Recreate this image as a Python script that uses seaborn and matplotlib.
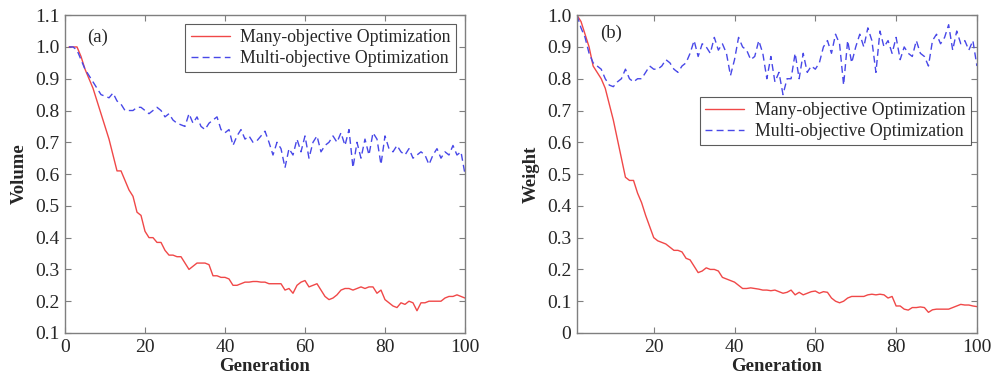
import numpy as np
import pandas as pd
import seaborn as sns
import matplotlib.pyplot as plt

# Generation axis
generation = list(range(1, 101))

# (a) Volume
volume_many = [1.0, 1.0, 1.0, 0.97, 0.93, 0.90, 0.87, 0.83, 0.79, 0.75,
               0.71, 0.66, 0.61, 0.61, 0.58, 0.55, 0.53, 0.48, 0.47, 0.42,
               0.40, 0.40, 0.385, 0.385, 0.36, 0.345, 0.345, 0.34, 0.34, 0.32,
               0.30, 0.31, 0.32, 0.32, 0.32, 0.315, 0.28, 0.28, 0.275, 0.275,
               0.27, 0.25, 0.25, 0.255, 0.26, 0.26, 0.262, 0.262, 0.26, 0.26,
               0.255, 0.255, 0.255, 0.255, 0.235, 0.24, 0.225, 0.25, 0.26, 0.265,
               0.245, 0.25, 0.255, 0.235, 0.215, 0.205, 0.21, 0.22, 0.235, 0.24,
               0.24, 0.235, 0.24, 0.245, 0.24, 0.245, 0.245, 0.225, 0.235, 0.205,
               0.195, 0.185, 0.18, 0.195, 0.19, 0.2, 0.195, 0.17, 0.195, 0.195,
               0.2, 0.2, 0.2, 0.2, 0.21, 0.215, 0.215, 0.22, 0.215, 0.21]
volume_multi = [1.0, 1.0, 0.99, 0.96, 0.93, 0.91, 0.89, 0.87, 0.85, 0.845,
                0.84, 0.855, 0.83, 0.82, 0.80, 0.80, 0.80, 0.81, 0.81, 0.80,
                0.79, 0.80, 0.81, 0.80, 0.78, 0.79, 0.77, 0.76, 0.755, 0.75,
                0.79, 0.76, 0.78, 0.75, 0.74, 0.76, 0.77, 0.78, 0.74, 0.73,
                0.74, 0.69, 0.72, 0.74, 0.71, 0.72, 0.70, 0.705, 0.72, 0.735,
                0.70, 0.66, 0.70, 0.68, 0.62, 0.68, 0.66, 0.71, 0.67, 0.72,
                0.65, 0.70, 0.72, 0.67, 0.69, 0.70, 0.72, 0.70, 0.73, 0.69,
                0.74, 0.62, 0.70, 0.65, 0.71, 0.66, 0.73, 0.71, 0.63, 0.72,
                0.68, 0.67, 0.69, 0.67, 0.66, 0.68, 0.65, 0.66, 0.67, 0.66,
                0.63, 0.66, 0.68, 0.65, 0.67, 0.66, 0.69, 0.66, 0.67, 0.60]

# (b) Weight
weight_many = [1.0, 0.98, 0.94, 0.90, 0.84, 0.82, 0.80, 0.77, 0.72, 0.67,
               0.61, 0.55, 0.49, 0.48, 0.48, 0.44, 0.41, 0.37, 0.335, 0.30,
               0.29, 0.285, 0.28, 0.27, 0.26, 0.26, 0.255, 0.235, 0.23, 0.21,
               0.19, 0.195, 0.205, 0.20, 0.20, 0.195, 0.175, 0.17, 0.165, 0.16,
               0.15, 0.14, 0.14, 0.142, 0.14, 0.138, 0.135, 0.135, 0.133, 0.135,
               0.13, 0.125, 0.128, 0.135, 0.12, 0.128, 0.12, 0.125, 0.13, 0.132,
               0.125, 0.13, 0.128, 0.11, 0.10, 0.095, 0.10, 0.11, 0.115, 0.115,
               0.115, 0.115, 0.12, 0.122, 0.12, 0.122, 0.12, 0.11, 0.115, 0.085,
               0.085, 0.075, 0.072, 0.08, 0.08, 0.082, 0.08, 0.065, 0.073, 0.075,
               0.075, 0.075, 0.075, 0.08, 0.085, 0.09, 0.088, 0.088, 0.085, 0.083]
weight_multi = [1.0, 0.96, 0.93, 0.88, 0.85, 0.84, 0.83, 0.80, 0.78, 0.775,
                0.79, 0.80, 0.83, 0.80, 0.79, 0.80, 0.80, 0.82, 0.84, 0.83,
                0.83, 0.84, 0.86, 0.85, 0.83, 0.82, 0.84, 0.85, 0.88, 0.92,
                0.87, 0.91, 0.90, 0.88, 0.93, 0.89, 0.91, 0.88, 0.81, 0.86,
                0.93, 0.90, 0.89, 0.86, 0.87, 0.92, 0.88, 0.80, 0.87, 0.79,
                0.82, 0.75, 0.80, 0.80, 0.88, 0.80, 0.88, 0.82, 0.84, 0.83,
                0.85, 0.90, 0.92, 0.88, 0.94, 0.91, 0.78, 0.92, 0.85, 0.90,
                0.94, 0.90, 0.96, 0.92, 0.82, 0.95, 0.90, 0.92, 0.88, 0.93,
                0.86, 0.90, 0.88, 0.87, 0.92, 0.88, 0.87, 0.84, 0.92, 0.94,
                0.91, 0.93, 0.97, 0.89, 0.95, 0.91, 0.92, 0.89, 0.92, 0.84]

labels = ['Many-objective Optimization', 'Multi-objective Optimization']
red = '#f04848'
blue = '#4848e8'

sns.set_style('ticks')
plt.rcParams['font.family'] = ['Liberation Serif', 'DejaVu Serif']
plt.rcParams['font.size'] = 12

fig = plt.figure(figsize=(9.91, 3.79), dpi=100)
ax1 = fig.add_axes([0.0656, 0.1214, 0.4036, 0.8386])
ax2 = fig.add_axes([0.5822, 0.1214, 0.4036, 0.8386])


def draw_panel(ax, many, multi):
    df = pd.DataFrame({'Generation': generation, labels[0]: many, labels[1]: multi})
    sns.lineplot(data=df, x='Generation', y=labels[0], ax=ax, color=red,
                 linewidth=1.0, label=labels[0])
    sns.lineplot(data=df, x='Generation', y=labels[1], ax=ax, color=blue,
                 linewidth=1.0, linestyle=(0, (5, 3)), label=labels[1])
    for s in ax.spines.values():
        s.set_visible(True)
        s.set_color('#7f7f7f')
        s.set_linewidth(1.0)
    ax.tick_params(direction='in', top=True, right=True, color='#7f7f7f',
                   length=4, labelsize=14, pad=4)


legend_kw = dict(fontsize=12.8, frameon=True, fancybox=False, handlelength=2.2,
                 labelspacing=0.2, borderpad=0.3, handletextpad=0.6)

draw_panel(ax1, volume_many, volume_multi)
ax1.set_xlim(0, 100)
ax1.set_ylim(0.1, 1.1)
ax1.set_xticks([0, 20, 40, 60, 80, 100])
ax1.set_yticks(np.round(np.arange(0.1, 1.11, 0.1), 1))
ax1.set_yticklabels([f'{v:.1f}' for v in np.arange(0.1, 1.11, 0.1)])
ax1.set_xlabel('Generation', fontweight='bold', fontsize=13.5, labelpad=2)
ax1.set_ylabel('Volume', fontweight='bold', fontsize=13.5, labelpad=5)
ax1.text(5.5, 1.03, '(a)', fontsize=13.5, va='center', ha='left')
leg1 = ax1.legend(loc='upper right', bbox_to_anchor=(0.978, 0.972), borderaxespad=0,
                  **legend_kw)
leg1.get_frame().set_edgecolor('#333333')
leg1.get_frame().set_linewidth(0.8)

draw_panel(ax2, weight_many, weight_multi)
ax2.set_xlim(1, 100)
ax2.set_ylim(0, 1.0)
ax2.set_xticks([20, 40, 60, 80, 100])
ax2.set_yticks(np.round(np.arange(0, 1.01, 0.1), 1))
ax2.set_yticklabels(['0'] + [f'{v:.1f}' for v in np.arange(0.1, 1.01, 0.1)])
ax2.set_xlabel('Generation', fontweight='bold', fontsize=13.5, labelpad=2)
ax2.set_ylabel('Weight', fontweight='bold', fontsize=13.5, labelpad=5)
ax2.text(6.7, 0.943, '(b)', fontsize=13.5, va='center', ha='left')
leg2 = ax2.legend(loc='upper right', bbox_to_anchor=(0.985, 0.742), borderaxespad=0,
                  **legend_kw)
leg2.get_frame().set_edgecolor('#333333')
leg2.get_frame().set_linewidth(0.8)

plt.savefig('out.png', dpi=100)
